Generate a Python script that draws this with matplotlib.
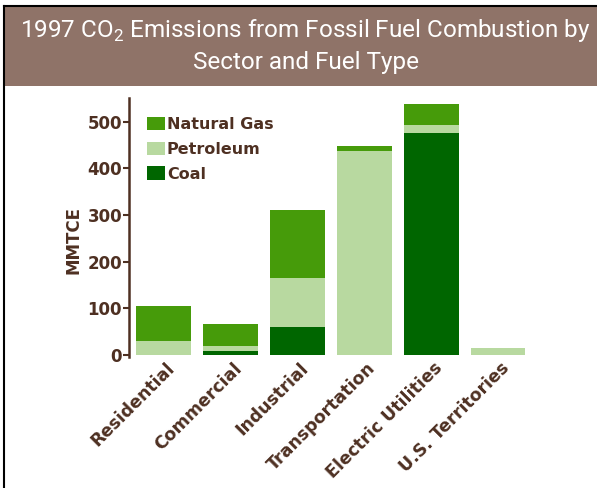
import numpy as np
import matplotlib.pyplot as plt
from matplotlib.patches import Rectangle
from matplotlib.lines import Line2D
import matplotlib.transforms as mtransforms

sectors = ['Residential', 'Commercial', 'Industrial', 'Transportation',
           'Electric Utilities', 'U.S. Territories']
coal = [0, 8, 60, 0, 475, 0]
petroleum = [31, 11, 105, 437, 17, 14]
natural_gas = [74, 47, 145, 10, 45, 0]
yticks = [0, 100, 200, 300, 400, 500]

W, H = 597, 488
brown = '#4E3022'
plt.rcParams['mathtext.fontset'] = 'custom'
plt.rcParams['mathtext.rm'] = 'Roboto'

fig = plt.figure(figsize=(W / 100, H / 100), dpi=100)


def fx(x):
    return x / W


def fy(y):
    return 1 - y / H


# frame and title band
fig.patches.append(Rectangle((fx(5), fy(86)), fx(W) - fx(5), fy(7) - fy(86),
                             transform=fig.transFigure, facecolor='#8F7368',
                             edgecolor='none'))
fig.lines.append(Line2D([fx(4), fx(4)], [fy(6), fy(488)], transform=fig.transFigure,
                        color='black', lw=1.5))
fig.lines.append(Line2D([fx(4), fx(W)], [fy(6), fy(6)], transform=fig.transFigure,
                        color='black', lw=1.5))

tfont = ['Roboto', 'DejaVu Sans']
fig.text(fx(305), fy(31), r'1997 CO$_2$ Emissions from Fossil Fuel Combustion by',
         ha='center', va='center', color='white', fontsize=17.5, family=tfont)
fig.text(fx(306), fy(63), 'Sector and Fuel Type', ha='center', va='center',
         color='white', fontsize=17.5, family=tfont)

ax = fig.add_axes([fx(129), fy(357.3), fx(531.5) - fx(129), fy(98.4) - fy(357.3)])
x = np.arange(len(sectors))
w = 0.82
bottom2 = np.array(coal) + np.array(petroleum)
ax.bar(x, coal, w, color='#006600', label='Coal')
ax.bar(x, petroleum, w, bottom=coal, color='#B8D9A0', label='Petroleum')
ax.bar(x, natural_gas, w, bottom=bottom2, color='#469B0A', label='Natural Gas')

ax.set_xlim(-0.51, 5.5)
ax.set_ylim(-5, 550)
ax.set_yticks(yticks)
ax.set_yticklabels([str(v) for v in yticks], fontsize=12, fontweight='bold', color=brown)
ax.tick_params(axis='y', direction='out', length=4, width=1.5, color=brown, pad=1)
ax.set_xticks(x)
ax.set_xticklabels(sectors, rotation=45, ha='right', va='center', rotation_mode='anchor',
                   fontsize=12.5, fontweight='bold', color=brown)
ax.tick_params(axis='x', length=0, pad=6)
offset = mtransforms.ScaledTranslation(6.5 / 72, 0, fig.dpi_scale_trans)
for lbl in ax.get_xticklabels():
    lbl.set_transform(lbl.get_transform() + offset)

for s in ['top', 'right', 'bottom']:
    ax.spines[s].set_visible(False)
ax.spines['left'].set_color(brown)
ax.spines['left'].set_linewidth(1.8)

fig.text(fx(74), fy(240), 'MMTCE', rotation=90, ha='center', va='center',
         fontsize=12, fontweight='bold', color=brown)

handles, labels = ax.get_legend_handles_labels()
leg = ax.legend(handles[::-1], labels[::-1], loc='upper left',
                bbox_to_anchor=(fx(147), fy(117)), bbox_transform=fig.transFigure,
                frameon=False, handlelength=1.1, handleheight=0.9, handletextpad=0.15,
                labelspacing=0.6, borderaxespad=0, borderpad=0,
                prop={'size': 11.5, 'weight': 'bold'})
for t in leg.get_texts():
    t.set_color(brown)

fig.savefig('out.png', dpi=100)
